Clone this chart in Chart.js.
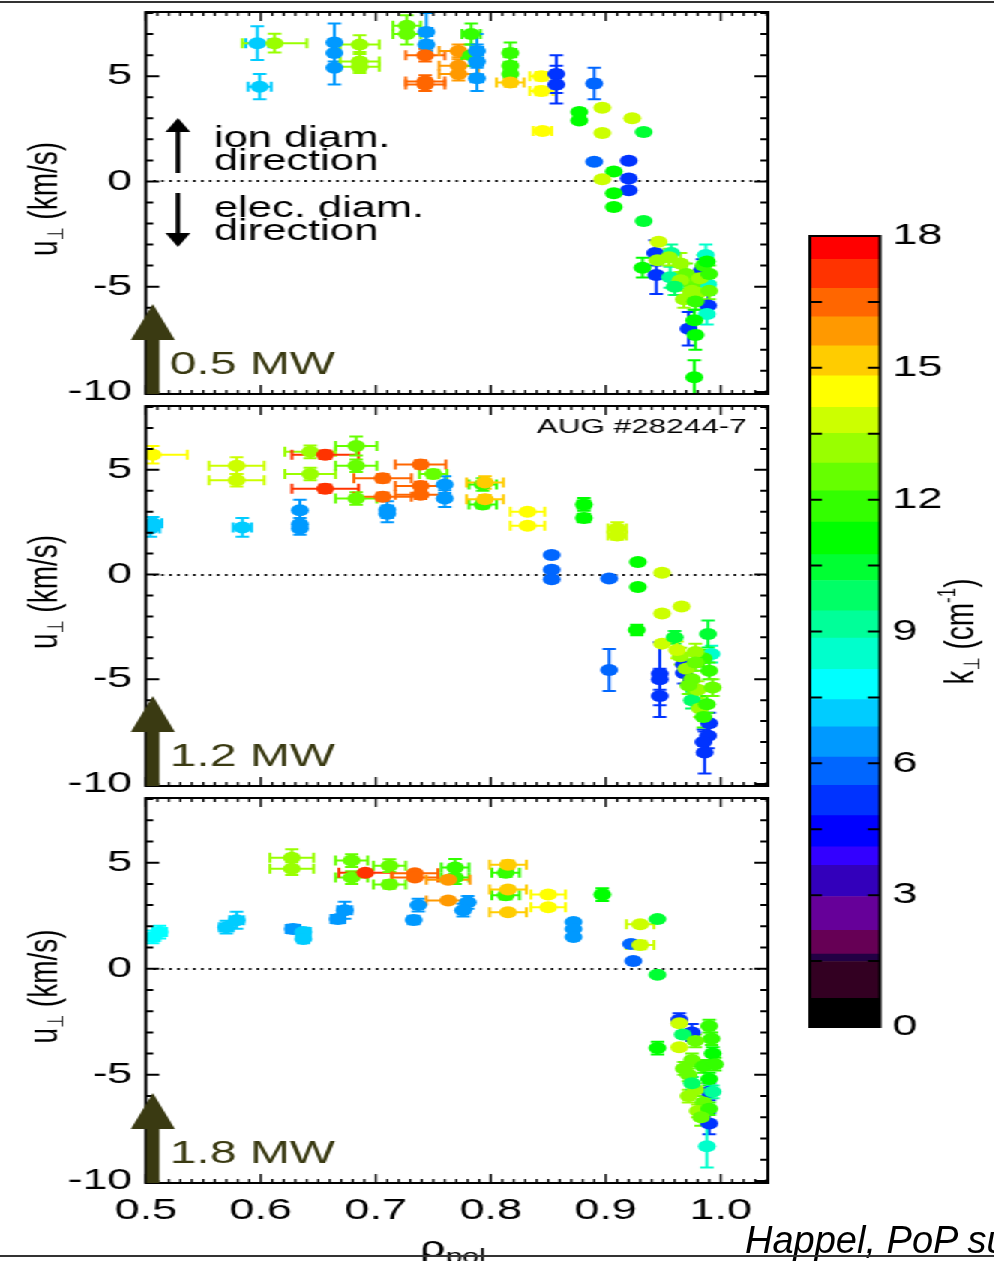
<!DOCTYPE html>
<html>
<head>
<meta charset="utf-8">
<script src="https://cdn.jsdelivr.net/npm/chart.js@4"></script>
<style>
  body { margin: 0; background: #fff; width: 994px; height: 1261px; overflow: hidden; position: relative; }
  #fig { position: absolute; left: 0; top: 0; width: 663px; height: 1261px; transform: scaleX(1.5); transform-origin: 0 0; }
  #fig canvas { position: absolute; left: 0; }
  .rule { position: absolute; left: 0; width: 994px; height: 2px; background: #333; }
  #cite { position: absolute; left: 745px; top: 1221px; font: italic 38px "Liberation Sans", Arial, sans-serif; line-height: 38px; white-space: nowrap; color: #000; }
</style>
</head>
<body>
<div id="fig">
  <canvas id="p1" width="530" height="400" style="top:0"></canvas>
  <canvas id="p2" width="530" height="392" style="top:400px"></canvas>
  <canvas id="p3" width="530" height="469" style="top:792px"></canvas>
  <canvas id="cb" width="133" height="830" style="left:530px;top:220px"></canvas>
</div>
<div id="cite">Happel, PoP su</div>
<div class="rule" style="top:1px"></div>
<div class="rule" style="top:1255px"></div>
<script>
// colour scale of k_perp (band edges, bottom to top) and its colours
const KB = [0, 0.65, 1.49, 1.66, 2.20, 2.97, 3.68, 4.10, 4.81, 5.50, 6.14, 6.83, 7.45, 8.14, 8.85,
            9.47, 10.16, 10.75, 11.49, 12.20, 12.83, 13.51, 14.10, 14.82, 15.50, 16.16, 16.81, 17.47, 18];
const KCOL = ['#000000', '#330022', '#220044', '#660055', '#660099', '#3300bb', '#3300ff', '#0000ff',
              '#0033ff', '#0066ff', '#0099ff', '#00ccff', '#00ffff', '#00ffcc', '#00ff99', '#00ff66',
              '#00ff33', '#00ff00', '#33ff00', '#66ff00', '#99ff00', '#ccff00', '#ffff00', '#ffcc00',
              '#ff9900', '#ff6600', '#ff3300', '#ff0000'];
const X_TICKS = [0.5, 0.6, 0.7, 0.8, 0.9, 1.0];
const U_TICKS = [-10, -5, 0, 5];
const K_TICKS = [0, 3, 6, 9, 12, 15, 18];
const POWER = ['0.5 MW', '1.2 MW', '1.8 MW'];

// panel 1: 0.5 MW
const rho1 = [0.597,0.599,0.612,0.664,0.664,0.664,0.686,0.686,0.686,0.727,
  0.727,0.744,0.744,0.743,0.743,0.743,0.772,0.772,0.772,0.783,
  0.783,0.788,0.788,0.788,0.817,0.817,0.817,0.817,0.844,0.844,
  0.857,0.857,0.890,0.845,0.877,0.877,0.897,0.897,0.923,0.933,
  0.890,0.920,0.907,0.897,0.920,0.920,0.907,0.907,0.933,0.943,
  0.944,0.984,0.989,0.972,0.932,0.957,0.956,0.987,0.989,0.988,
  0.946,0.945,0.955,0.965,0.970,0.975,0.980,0.985,0.988,0.968,
  0.975,0.965,0.982,0.990,0.990,0.960,0.978,0.977,0.978,0.977];
const u1 = [6.57,4.50,6.57,6.60,6.10,5.40,6.50,5.70,5.45,7.40,
  7.00,7.10,6.50,6.00,4.75,4.60,6.20,5.50,5.10,7.00,
  6.00,6.20,5.70,4.90,6.10,5.50,5.10,4.70,5.00,4.30,
  5.10,4.60,4.65,2.40,3.30,2.90,3.50,2.30,3.00,2.35,
  0.93,0.98,0.47,0.10,0.14,-0.42,-0.56,-1.22,-1.88,-3.40,
  -4.45,-4.20,-5.90,-7.00,-4.10,-3.40,-4.55,-3.50,-4.90,-6.30,
  -2.87,-3.75,-3.60,-3.90,-4.40,-4.90,-5.30,-4.00,-3.80,-5.60,
  -5.20,-4.70,-4.60,-4.40,-5.20,-5.00,-5.70,-6.60,-7.30,-9.30];
const k1 = [7.1,7.1,13.2,6.5,6.5,6.5,13.0,13.0,13.0,12.5,
  12.5,6.5,6.5,16.5,16.5,16.5,15.8,15.8,15.8,11.8,
  11.8,6.5,6.5,6.5,11.8,11.8,11.8,15.2,14.5,14.5,
  5.3,5.3,5.8,14.5,11.1,11.1,13.8,13.8,13.8,10.4,
  5.8,5.0,11.1,13.8,5.0,5.0,11.1,11.1,10.4,5.0,
  5.0,5.0,5.0,5.0,11.1,9.2,9.2,8.5,8.5,8.5,
  13.8,13.2,13.2,13.2,12.5,12.5,13.2,11.8,11.1,13.2,
  13.2,13.2,13.2,11.8,12.5,9.8,11.8,11.1,11.1,11.1];
const dRho1 = [0.010,0.010,0.028,0,0,0,0.017,0.017,0.017,0.012,
  0.012,0.005,0.005,0.017,0.017,0.017,0.017,0.017,0.017,0.008,
  0.008,0.005,0.005,0.005,0.005,0.005,0.005,0.012,0.010,0.010,
  0.004,0.004,0.004,0.008,0,0,0,0,0,0,
  0,0,0,0,0,0,0,0,0,0,
  0,0,0,0,0,0,0,0,0,0,
  0,0,0,0,0,0,0,0,0,0,
  0,0,0,0,0,0,0,0,0,0];
const dU1 = [0.8,0.6,0.45,0.9,0.6,0.8,0.45,0.45,0.3,0.5,
  0.5,0.9,0.6,0.3,0.3,0.3,0.3,0.3,0.3,0.5,
  0.5,0.8,0.8,0.6,0.5,0.4,0.4,0.2,0.2,0.2,
  0.9,0.9,0.75,0.15,0.15,0.15,0,0,0,0,
  0,0,0,0,0,0,0,0,0,0.6,
  0.9,0.5,0.5,0.8,0.47,0.4,0.5,0.5,0.5,0.5,
  0,0,0.4,0.5,0.5,0.5,0.5,0.5,0.4,0.4,
  0.4,0.4,0.4,0.4,0.4,0.4,0.4,0.5,0.7,0.8];

// panel 2: 1.2 MW
const rho2 = [0.506,0.579,0.579,0.504,0.506,0.584,0.634,0.634,0.634,0.643,
  0.643,0.656,0.656,0.683,0.683,0.683,0.710,0.710,0.706,0.706,
  0.739,0.739,0.739,0.750,0.760,0.760,0.793,0.793,0.795,0.795,
  0.832,0.832,0.881,0.881,0.910,0.910,0.853,0.853,0.853,0.903,
  0.928,0.928,0.949,0.949,0.966,0.927,0.903,0.947,0.947,0.947,
  0.968,0.968,0.990,0.989,0.985,0.986,0.992,0.975,0.949,0.960,
  0.989,0.965,0.970,0.975,0.980,0.985,0.990,0.982,0.988,0.985,
  0.972,0.978,0.993,0.962,0.978];
const u2 = [5.72,5.20,4.50,2.20,2.45,2.25,3.07,2.40,2.20,5.86,
  4.80,5.72,4.10,6.14,5.20,3.63,3.10,2.90,4.60,3.72,
  5.26,4.23,3.81,4.80,4.30,3.63,4.30,3.35,4.40,3.60,
  3.00,2.33,3.35,2.70,2.20,1.86,0.93,0.23,-0.23,-0.19,
  0.60,-0.60,0.09,-1.86,-1.53,-2.65,-4.56,-4.74,-5.00,-5.80,
  -4.30,-4.70,-7.10,-7.70,-8.00,-8.50,-3.80,-6.00,-3.30,-3.00,
  -2.84,-3.90,-4.50,-5.00,-5.50,-4.00,-4.60,-6.40,-6.20,-6.80,
  -5.30,-3.70,-5.40,-3.60,-4.20];
const k2 = [14.5,13.8,13.8,7.1,7.1,7.1,6.5,6.5,6.5,13.2,
  13.2,17.1,17.1,12.5,12.5,12.5,6.5,6.5,16.5,16.5,
  16.5,16.5,16.5,12.5,6.5,6.5,11.8,11.8,15.2,15.2,
  14.5,14.5,11.1,11.1,13.8,13.8,5.8,5.8,5.8,5.8,
  11.1,11.1,13.8,13.8,13.8,11.1,5.8,5.0,5.0,5.0,
  5.0,5.0,5.0,5.0,5.0,5.0,8.5,9.8,13.8,10.4,
  10.4,13.2,13.2,12.5,13.2,11.8,11.8,13.2,11.8,11.8,
  12.5,13.2,12.5,13.8,12.5];
const dRho2 = [0.030,0.024,0.024,0.008,0.008,0.008,0,0,0,0.022,
  0.022,0.029,0.029,0.018,0.018,0.018,0,0,0.025,0.025,
  0.022,0.022,0.022,0.012,0,0,0.012,0.012,0.016,0.016,
  0.015,0.015,0.005,0.005,0.008,0.008,0,0,0,0,
  0,0,0,0,0,0,0,0,0,0,
  0,0,0,0,0,0,0,0,0,0,
  0,0,0,0,0,0,0,0,0,0,
  0,0,0,0,0];
const dU2 = [0.42,0.4,0.3,0.4,0.3,0.45,0.5,0.3,0.3,0.3,
  0.3,0.2,0.2,0.45,0.3,0.3,0.4,0.4,0.2,0.2,
  0.2,0.2,0.2,0.2,0.4,0.4,0.3,0.2,0.3,0.2,
  0.1,0.1,0.3,0.2,0.3,0.2,0,0,0,0,
  0,0,0,0,0,0.25,1.0,1.5,0.5,1.0,
  0.5,0.5,0.5,0.6,0.6,1.0,0.4,0.4,0,0.3,
  0.65,0.4,0.4,0.4,0.4,0.4,0.4,0.4,0.4,0.5,
  0.4,0.4,0.4,0.4,0.4];

// panel 3: 1.8 MW
const rho3 = [0.506,0.512,0.570,0.579,0.628,0.637,0.637,0.667,0.673,0.627,
  0.627,0.679,0.679,0.691,0.712,0.712,0.734,0.734,0.737,0.733,
  0.769,0.769,0.763,0.763,0.780,0.776,0.813,0.813,0.815,0.815,
  0.815,0.850,0.850,0.872,0.872,0.872,0.897,0.922,0.930,0.930,
  0.924,0.945,0.945,0.945,0.964,0.975,0.990,0.985,0.990,0.964,
  0.964,0.967,0.990,0.992,0.993,0.978,0.975,0.985,0.972,0.990,
  0.978,0.993,0.972,0.985,0.980,0.990,0.975,0.988,0.983,0.968,
  0.995];
const u3 = [1.50,1.73,1.96,2.29,1.87,1.73,1.40,2.34,2.76,5.23,
  4.72,5.10,4.30,4.53,4.86,3.97,4.50,4.30,3.00,2.30,
  4.77,4.30,4.20,3.22,3.13,2.76,4.53,3.46,4.90,3.74,
  2.66,3.50,2.90,2.20,1.87,1.50,3.50,1.17,2.10,1.12,
  0.37,2.34,-0.28,-3.74,-2.40,-3.00,-7.30,-6.60,-5.80,-2.57,
  -3.70,-3.10,-2.70,-3.30,-4.00,-3.40,-4.30,-4.60,-5.00,-5.20,
  -5.70,-5.80,-6.00,-6.30,-6.70,-6.60,-5.40,-8.37,-7.00,-4.70,
  -4.50];
const k3 = [7.8,7.8,7.1,7.1,6.5,7.1,7.1,6.5,6.5,13.2,
  13.2,12.5,12.5,17.1,12.5,12.5,16.5,16.5,6.5,6.5,
  11.8,11.8,15.8,15.8,6.5,6.5,11.8,11.8,15.2,15.2,
  15.2,14.5,14.5,6.8,6.8,6.8,11.1,5.8,13.8,13.8,
  5.8,10.4,10.4,11.1,5.0,5.0,5.0,5.0,5.0,13.8,
  13.8,9.8,11.8,11.8,11.1,12.5,12.5,11.8,12.5,11.1,
  13.2,9.2,13.2,12.5,13.2,11.8,9.8,8.5,12.5,12.5,
  12.0];
const dRho3 = [0.006,0.006,0.006,0.006,0.006,0.006,0,0.006,0.006,0.019,
  0.019,0.014,0.014,0.023,0.014,0.014,0.020,0.020,0,0,
  0.012,0.012,0.019,0.019,0,0,0.012,0.012,0.016,0.016,
  0.016,0.015,0.015,0,0,0,0.004,0,0.012,0.012,
  0,0,0,0,0,0,0,0,0,0,
  0,0,0,0,0,0,0,0,0,0,
  0,0,0,0,0,0,0,0,0,0,
  0];
const dU3 = [0.3,0.3,0.3,0.4,0.2,0.2,0.2,0.2,0.4,0.4,
  0.3,0.3,0.3,0.1,0.3,0.2,0.1,0.1,0.3,0.2,
  0.4,0.3,0,0,0.3,0.3,0.2,0.2,0.2,0.1,
  0.1,0.1,0.1,0.1,0.1,0.1,0.3,0,0,0.2,
  0,0,0,0.3,0.3,0.4,0.5,0.4,0.4,0,
  0,0,0.3,0.3,0.3,0.3,0.3,0.3,0.3,0.3,
  0.3,0.3,0.3,0.3,0.3,0.3,0.3,1.0,0.4,0.3,
  0.3];

const FF = '"Liberation Sans", Arial, Helvetica, "DejaVu Sans", sans-serif';
const OLIVE = '#3a3a12';

function kColor(k) {
  for (let i = 0; i < KCOL.length; i++) if (k < KB[i + 1]) return KCOL[i];
  return KCOL[KCOL.length - 1];
}

// text with sub/superscripts: parts = [text, size, baseline offset]
function richText(ctx, cx, cy, parts, rotate) {
  ctx.save();
  ctx.translate(cx, cy);
  if (rotate) ctx.rotate(-Math.PI / 2);
  ctx.textBaseline = 'alphabetic';
  ctx.textAlign = 'left';
  let w = 0;
  parts.forEach(p => { ctx.font = p[1] + 'px ' + FF; w += ctx.measureText(p[0]).width; });
  let x = -w / 2;
  parts.forEach(p => {
    ctx.font = p[1] + 'px ' + FF;
    ctx.fillText(p[0], x, p[2]);
    x += ctx.measureText(p[0]).width;
  });
  ctx.restore();
}

function arrow(ctx, x, tail, tip, shaft, headW, headL, color) {
  const dir = tip < tail ? 1 : -1;
  ctx.save();
  ctx.fillStyle = color;
  ctx.fillRect(x - shaft / 2, Math.min(tail, tip + dir * headL), shaft, Math.abs(tail - (tip + dir * headL)));
  ctx.beginPath();
  ctx.moveTo(x, tip);
  ctx.lineTo(x - headW, tip + dir * headL);
  ctx.lineTo(x + headW, tip + dir * headL);
  ctx.closePath();
  ctx.fill();
  ctx.restore();
}

function errPlugin(rho, u, k, dRho, dU) {
  return {
    id: 'errbars',
    beforeDatasetsDraw(chart) {
      const { ctx, chartArea: a, scales: { x, y } } = chart;
      ctx.save();
      ctx.beginPath(); ctx.rect(a.left, a.top, a.width, a.height); ctx.clip();
      ctx.lineWidth = 2;
      rho.forEach((r, i) => {
        const px = x.getPixelForValue(r), py = y.getPixelForValue(u[i]);
        ctx.strokeStyle = kColor(k[i]);
        ctx.beginPath();
        if (dU[i] > 0) {
          const t = y.getPixelForValue(u[i] + dU[i]), b = y.getPixelForValue(u[i] - dU[i]);
          ctx.moveTo(px, t); ctx.lineTo(px, b);
          ctx.moveTo(px - 4.5, t); ctx.lineTo(px + 4.5, t);
          ctx.moveTo(px - 4.5, b); ctx.lineTo(px + 4.5, b);
        }
        if (dRho[i] > 0) {
          const l = x.getPixelForValue(r - dRho[i]), rr = x.getPixelForValue(r + dRho[i]);
          ctx.moveTo(l, py); ctx.lineTo(rr, py);
          ctx.moveTo(l, py - 5); ctx.lineTo(l, py + 5);
          ctx.moveTo(rr, py - 5); ctx.lineTo(rr, py + 5);
        }
        ctx.stroke();
      });
      ctx.restore();
    }
  };
}

function framePlugin(power, extra) {
  return {
    id: 'frame',
    beforeDatasetsDraw(chart) {
      const { ctx, chartArea: a, scales: { y } } = chart;
      const y0 = Math.round(y.getPixelForValue(0));
      ctx.save();
      ctx.strokeStyle = '#000'; ctx.lineWidth = 2.2; ctx.setLineDash([1.7, 3.6]);
      ctx.beginPath(); ctx.moveTo(a.left + 5, y0); ctx.lineTo(a.right, y0); ctx.stroke();
      ctx.restore();
    },
    afterDraw(chart) {
      const { ctx, chartArea: a, scales: { x, y } } = chart;
      ctx.save();
      ctx.strokeStyle = '#000';
      // inward ticks on all four sides
      ctx.lineWidth = 1.4;
      ctx.beginPath();
      for (let i = 50; i <= 104; i++) {
        const px = x.getPixelForValue(i / 100), len = i % 10 === 0 ? 9 : 4;
        ctx.moveTo(px, a.top); ctx.lineTo(px, a.top + len);
        ctx.moveTo(px, a.bottom); ctx.lineTo(px, a.bottom - len);
      }
      ctx.stroke();
      ctx.lineWidth = 2;
      ctx.beginPath();
      for (let v = -10; v <= 8; v++) {
        const py = y.getPixelForValue(v), len = v % 5 === 0 ? 9 : 5;
        ctx.moveTo(a.left, py); ctx.lineTo(a.left + len, py);
        ctx.moveTo(a.right, py); ctx.lineTo(a.right - len, py);
      }
      ctx.stroke();
      ctx.lineWidth = 2;
      ctx.strokeRect(a.left, a.top, a.width, a.height);
      ctx.restore();

      // axis title
      ctx.save();
      ctx.fillStyle = '#000';
      richText(ctx, 30, (a.top + a.bottom) / 2 - 4, [['u', 28, 8], ['\u22a5', 15, 12], [' (km/s)', 28, 8]], true);
      ctx.restore();

      // heating power arrow
      arrow(ctx, 102, a.bottom, a.bottom - 90, 8.7, 14.7, 36, OLIVE);
      ctx.save();
      ctx.fillStyle = OLIVE;
      ctx.font = '32px ' + FF;
      ctx.textBaseline = 'alphabetic';
      ctx.fillText(power, 113.3, a.bottom - 20);
      ctx.restore();
      if (extra) extra(ctx, a);
    }
  };
}

function noPad(s) {
  s.paddingTop = 0; s.paddingBottom = 0; s.paddingLeft = 0; s.paddingRight = 0;
}

function makePanel(id, rho, u, k, dRho, dU, power, pad, showX, extra) {
  const pts = rho.map((r, i) => ({ x: r, y: u[i] }));
  return new Chart(document.getElementById(id), {
    type: 'scatter',
    data: {
      datasets: [{
        data: pts,
        pointRadius: 6,
        pointHoverRadius: 6,
        pointBorderWidth: 0,
        pointBackgroundColor: k.map(kColor)
      }]
    },
    options: {
      responsive: false,
      animation: false,
      events: [],
      layout: { padding: pad },
      plugins: { legend: { display: false }, tooltip: { enabled: false } },
      scales: {
        x: {
          type: 'linear', min: 0.5, max: 1.041, display: showX,
          afterBuildTicks: s => { s.ticks = X_TICKS.map(v => ({ value: v })); },
          afterFit: s => { s.height = showX ? 78 : 0; noPad(s); },
          grid: { display: false, drawTicks: false },
          border: { display: false },
          ticks: { color: '#000', font: { family: FF, size: 30 }, padding: 10, maxRotation: 0, autoSkip: false,
                   callback: v => v.toFixed(1) }
        },
        y: {
          min: -10.1, max: 8.05,
          afterBuildTicks: s => { s.ticks = U_TICKS.map(v => ({ value: v })); },
          afterFit: s => { s.width = 97.3; noPad(s); },
          grid: { display: false, drawTicks: false },
          border: { display: false },
          ticks: { color: '#000', font: { family: FF, size: 30 }, padding: 9, callback: v => String(v) }
        }
      }
    },
    plugins: [errPlugin(rho, u, k, dRho, dU), framePlugin(power, extra)]
  });
}

makePanel('p1', rho1, u1, k1, dRho1, dU1, POWER[0], { left: 0, right: 18, top: 12, bottom: 2 }, false, (ctx, a) => {
  arrow(ctx, 118.7, 173, 118, 3, 8.3, 14, '#000');
  arrow(ctx, 118.7, 193, 247, 3, 8.3, 14, '#000');
  ctx.save();
  ctx.fillStyle = '#000';
  ctx.font = '29px ' + FF;
  ctx.textBaseline = 'alphabetic';
  ctx.fillText('ion diam.', 142.7, 147);
  ctx.fillText('direction', 142.7, 170);
  ctx.fillText('elec. diam.', 142.7, 217);
  ctx.fillText('direction', 142.7, 240);
  ctx.restore();
});

makePanel('p2', rho2, u2, k2, dRho2, dU2, POWER[1], { left: 0, right: 18, top: 2, bottom: 2 }, false, (ctx, a) => {
  ctx.save();
  ctx.fillStyle = '#000';
  ctx.font = '21px ' + FF;
  ctx.textAlign = 'right';
  ctx.textBaseline = 'alphabetic';
  ctx.fillText('AUG #28244-7', 498, 33);
  ctx.restore();
});

makePanel('p3', rho3, u3, k3, dRho3, dU3, POWER[2], { left: 0, right: 18, top: 3, bottom: 0 }, true, (ctx, a) => {
  ctx.save();
  ctx.fillStyle = '#000';
  richText(ctx, 302, 465, [['\u03c1', 30, 0], ['pol', 20, 6]], false);
  ctx.restore();
});

// colour bar
new Chart(document.getElementById('cb'), {
  type: 'bar',
  data: {
    labels: [''],
    datasets: KCOL.map((c, i) => ({
      data: [KB[i + 1] - KB[i]],
      backgroundColor: c,
      borderWidth: 0,
      barPercentage: 1,
      categoryPercentage: 1
    }))
  },
  options: {
    responsive: false,
    animation: false,
    events: [],
    layout: { padding: { left: 10, right: 0, top: 16, bottom: 23 } },
    plugins: { legend: { display: false }, tooltip: { enabled: false } },
    scales: {
      x: { display: false, stacked: true, afterFit: s => { s.height = 0; noPad(s); } },
      y: {
        stacked: true, position: 'right', min: 0, max: 18,
        afterBuildTicks: s => { s.ticks = K_TICKS.map(v => ({ value: v })); },
        afterFit: s => { s.width = 76.3; noPad(s); },
        grid: { display: false, drawTicks: false },
        border: { display: false },
        ticks: { color: '#000', font: { family: FF, size: 30 }, padding: 8.3 }
      }
    }
  },
  plugins: [{
    id: 'cbframe',
    afterDraw(chart) {
      const { ctx, chartArea: a, scales: { y } } = chart;
      ctx.save();
      ctx.strokeStyle = '#000';
      ctx.lineWidth = 2;
      ctx.beginPath();
      for (let v = 1.5; v < 18; v += 1.5) {
        const py = y.getPixelForValue(v);
        ctx.moveTo(a.left, py); ctx.lineTo(a.left + 8, py);
        ctx.moveTo(a.right, py); ctx.lineTo(a.right - 8, py);
      }
      ctx.stroke();
      ctx.strokeRect(a.left, a.top, a.width, a.height);
      ctx.fillStyle = '#000';
      richText(ctx, 640 - 530, (a.top + a.bottom) / 2, [['k', 28, 9], ['\u22a5', 15, 13], [' (cm', 28, 9], ['-1', 17, -3], [')', 28, 9]], true);
      ctx.restore();
    }
  }]
});
</script>
</body>
</html>
